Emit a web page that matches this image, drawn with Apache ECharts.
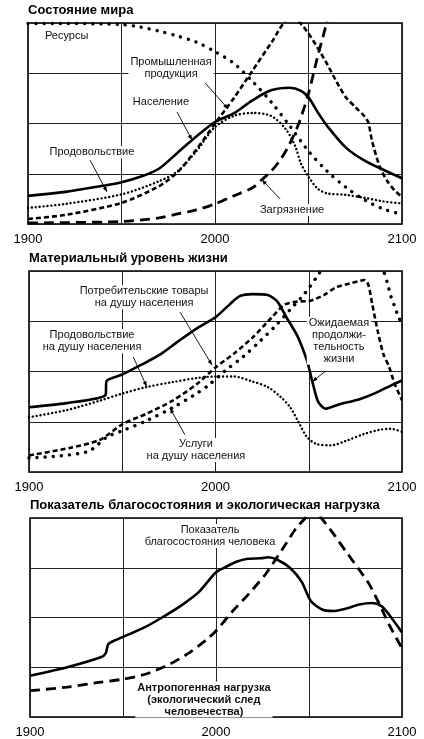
<!DOCTYPE html>
<html><head><meta charset="utf-8">
<script src="https://cdn.jsdelivr.net/npm/echarts/dist/echarts.min.js"></script>
<style>html,body{margin:0;padding:0;background:#fff}#c{width:424px;height:739px}</style>
</head><body><div id="c"></div>
<script>
const FONT = '"Liberation Sans", Arial, Helvetica, sans-serif';

// ---------- Panel 1: Состояние мира ----------
const resYears = [1900,1920,1950,1960,1970,1980,1990,2000,2010,2020,2030,2040,2050,2060,2070,2080,2090,2100];
const resValues = [3.99,3.99,3.97,3.92,3.84,3.74,3.62,3.43,3.2,2.84,2.43,1.95,1.45,1.05,0.73,0.48,0.3,0.19];
const indYears = [1900,1920,1950,1970,1980,1990,2000,2010,2020,2030,2040,2045,2050,2055,2060,2065,2070,2075,2080,2082,2084,2088,2092,2096,2100];
const indValues = [0.1,0.18,0.42,0.75,1.03,1.48,2.0,2.5,3.05,3.6,4.1,4.02,3.79,3.5,3.18,2.83,2.52,2.33,2.14,2.02,1.65,1.15,0.86,0.67,0.54];
const popYears = [1900,1920,1940,1950,1960,1970,1980,1990,2000,2010,2020,2030,2040,2046,2050,2055,2060,2070,2080,2090,2100];
const popValues = [0.56,0.64,0.76,0.83,0.94,1.1,1.42,1.74,2.03,2.2,2.46,2.66,2.71,2.65,2.52,2.22,1.95,1.52,1.26,1.08,0.91];
const foodYears = [1900,1920,1950,1970,1980,1990,2000,2010,2020,2030,2038,2043,2046,2050,2055,2060,2070,2080,2090,2100];
const foodValues = [0.32,0.4,0.59,0.85,1.05,1.45,1.93,2.15,2.21,2.15,1.88,1.54,1.2,0.94,0.7,0.61,0.58,0.52,0.45,0.41];
const polYears = [1900,1950,1970,1980,1990,2000,2010,2020,2025,2030,2035,2040,2045,2050,2055,2060,2063];
const polValues = [0.02,0.05,0.12,0.2,0.28,0.4,0.56,0.72,0.88,1.05,1.28,1.6,2.02,2.6,3.35,4.05,4.6];

// ---------- Panel 2: Материальный уровень жизни ----------
const lifeYears = [1900,1920,1941,1941.6,1950,1960,1970,1980,1990,2000,2008,2013,2020,2028,2033,2038,2044,2049,2052,2055,2059,2065,2078,2085,2094,2100];
const lifeValues = [1.29,1.37,1.53,1.81,1.94,2.13,2.33,2.6,2.86,3.08,3.35,3.5,3.54,3.52,3.4,3.08,2.7,2.22,1.79,1.4,1.26,1.33,1.46,1.56,1.72,1.82];
const goodsYears = [1900,1922,1938,1950,1963,1977,1990,2000,2010,2020,2030,2037,2044,2051,2058,2065,2072,2080,2082,2084,2087,2090,2093,2096,2100];
const goodsValues = [0.33,0.48,0.64,0.95,1.16,1.42,1.75,2.08,2.36,2.68,3.07,3.33,3.39,3.41,3.52,3.68,3.75,3.82,3.72,3.35,2.8,2.35,2.1,1.76,1.43];
const foodPcYears = [1900,1920,1938,1950,1963,1977,1990,2000,2010,2019,2028,2035,2040,2045,2049,2054,2062,2070,2080,2088,2094,2100];
const foodPcValues = [1.09,1.23,1.42,1.56,1.69,1.79,1.87,1.9,1.9,1.81,1.69,1.49,1.29,0.96,0.7,0.56,0.53,0.62,0.76,0.84,0.86,0.8];
const servYears = [1900,1931,1942,1950,1963,1977,1988,1996,2005,2015,2024,2032,2040,2048,2055,2062,2075,2085,2090,2092,2094,2096,2098,2100];
const servValues = [0.28,0.4,0.7,0.82,1.02,1.28,1.52,1.72,2.01,2.3,2.61,2.9,3.23,3.56,3.92,4.3,4.5,4.3,4.0,3.78,3.5,3.3,3.1,2.95];

// ---------- Panel 3: Показатель благосостояния и экологическая нагрузка ----------
const welfYears = [1900,1920,1938,1940.7,1942,1945,1950,1961,1971,1982,1991,2000,2006,2011,2017,2024,2028,2033,2040,2046,2051,2057,2063,2070,2077,2084,2089,2093,2100];
const welfValues = [0.83,1.0,1.2,1.28,1.46,1.53,1.61,1.79,2.0,2.26,2.52,2.91,3.03,3.12,3.18,3.19,3.21,3.16,2.99,2.72,2.33,2.16,2.13,2.18,2.26,2.29,2.23,2.06,1.7];
const footYears = [1900,1920,1938,1950,1962,1975,1986,1995,2000,2009,2018,2027,2036,2043,2048,2052,2056.6,2063,2070,2077,2082.5,2088,2093,2100];
const footValues = [0.53,0.6,0.7,0.76,0.86,1.06,1.3,1.56,1.73,2.13,2.49,2.89,3.39,3.79,4.0,4.2,4.0,3.69,3.32,2.96,2.66,2.26,1.86,1.38];

// tick labels
const tickLabels = [1900, 2000, 2100];
const titles = ['Состояние мира', 'Материальный уровень жизни', 'Показатель благосостояния и экологическая нагрузка'];

// annotations (data coordinates of each panel)
const annoTexts = [
  {g:0, t:'Ресурсы', x:1908, y:3.74, align:'left'},
  {g:0, t:'Промышленная\nпродукция', x:1976.5, y:3.10},
  {g:0, t:'Население', x:1971.1, y:2.43},
  {g:0, t:'Продовольствие', x:1934.2, y:1.43},
  {g:0, t:'Загрязнение', x:2041.2, y:0.28},
  {g:1, t:'Потребительские товары\nна душу населения', x:1961.7, y:3.48},
  {g:1, t:'Продовольствие\nна душу населения', x:1933.8, y:2.60},
  {g:1, t:'Услуги\nна душу населения', x:1989.5, y:0.44},
  {g:1, t:'Ожидаемая\nпродолжи-\nтельность\nжизни', x:2066.2, y:2.61},
  {g:2, t:'Показатель\nблагосостояния человека', x:1996.8, y:3.64},
  {g:2, t:'Антропогенная нагрузка\n(экологический след\nчеловечества)', x:1993.5, y:0.35, bold:true}
];
const annoArrows = [
  {g:0, from:[1994.7,2.81], to:[2007.0,2.29]},
  {g:0, from:[1979.7,2.23], to:[1987.7,1.67]},
  {g:0, from:[1933.2,1.27], to:[1942.2,0.64]},
  {g:0, from:[2034.8,0.50], to:[2025.1,0.88]},
  {g:1, from:[1981.0,3.18], to:[1998.1,2.13]},
  {g:1, from:[1955.9,2.29], to:[1963.1,1.70]},
  {g:1, from:[1983.6,0.74], to:[1975.6,1.27]},
  {g:1, from:[2058.7,2.00], to:[2051.9,1.80]}
];

const pairs = (xs, ys) => xs.map((x, i) => [x, ys[i]]);
const SOLID = {width:2.6, type:'solid'};
const SHORTDASH = {width:2.6, type:[5,3]};
const LONGDASH = {width:2.8, type:[10,6]};
const SMALLDOT = {width:2.4, type:[0.1,3.8], cap:'round'};
const BIGDOT = {width:3.4, type:[0.1,8], cap:'round'};

function line(g, xs, ys, style, smooth) {
  return {
    type:'line', xAxisIndex:g, yAxisIndex:g, data:pairs(xs, ys),
    showSymbol:false, symbol:'none', smooth: smooth == null ? 0.3 : smooth, clip:true, silent:true,
    lineStyle:Object.assign({color:'#000'}, style)
  };
}

const gridPos = [
  {left:28, top:23, width:374, height:201},
  {left:29, top:271, width:373, height:201},
  {left:30, top:518, width:372, height:200}
];

const chart = echarts.init(document.getElementById('c'), null, {renderer:'canvas'});
const option = {
  backgroundColor:'#fff',
  animation:false,
  title: titles.map((t, i) => ({
    text:t, left:gridPos[i].left, top:gridPos[i].top - 19.5, padding:0,
    textStyle:{fontFamily:FONT, fontSize:13, fontWeight:'bold', color:'#000'}
  })),
  grid: gridPos.map(p => Object.assign({show:true, borderColor:'#000', borderWidth:1.6, backgroundColor:'transparent', containLabel:false}, p)),
  xAxis: gridPos.map((p, i) => ({
    type:'value', gridIndex:i, min:1900, max:2100, interval:50,
    axisLine:{show:false}, axisTick:{show:false},
    splitLine:{show:true, lineStyle:{color:'#222', width:1}},
    axisLabel:{show:true, margin:9, color:'#000', fontFamily:FONT, fontSize:13,
      formatter: v => tickLabels.indexOf(v) >= 0 ? String(v) : ''}
  })),
  yAxis: gridPos.map((p, i) => ({
    type:'value', gridIndex:i, min:0, max:4, interval:1,
    axisLine:{show:false}, axisTick:{show:false}, axisLabel:{show:false},
    splitLine:{show:true, lineStyle:{color:'#222', width:1}}
  })),
  series: [
    line(0, resYears, resValues, BIGDOT),
    line(0, polYears, polValues, LONGDASH),
    line(0, foodYears, foodValues, SMALLDOT),
    line(0, indYears, indValues, SHORTDASH, 0.25),
    line(0, popYears, popValues, SOLID),
    line(1, servYears, servValues, BIGDOT),
    line(1, foodPcYears, foodPcValues, SMALLDOT),
    line(1, goodsYears, goodsValues, SHORTDASH, 0.25),
    line(1, lifeYears, lifeValues, SOLID, 0.25),
    line(2, footYears, footValues, LONGDASH, 0.25),
    line(2, welfYears, welfValues, SOLID, 0.25)
  ]
};
chart.setOption(option);

function arrowHead(x1, y1, x2, y2, s) {
  const a = Math.atan2(y2 - y1, x2 - x1);
  return [[x2, y2],
    [x2 - s * Math.cos(a - 0.38), y2 - s * Math.sin(a - 0.38)],
    [x2 - s * Math.cos(a + 0.38), y2 - s * Math.sin(a + 0.38)]];
}

const els = [];
annoArrows.forEach(a => {
  const p1 = chart.convertToPixel({gridIndex:a.g}, a.from);
  const p2 = chart.convertToPixel({gridIndex:a.g}, a.to);
  els.push({type:'line', z:90, silent:true, shape:{x1:p1[0], y1:p1[1], x2:p2[0], y2:p2[1]},
    style:{stroke:'#000', lineWidth:0.9}});
  els.push({type:'polygon', z:90, silent:true, shape:{points:arrowHead(p1[0], p1[1], p2[0], p2[1], 5.5)},
    style:{fill:'#000'}});
});
annoTexts.forEach(l => {
  const p = chart.convertToPixel({gridIndex:l.g}, [l.x, l.y]);
  els.push({type:'text', z:100, silent:true, x:p[0], y:p[1],
    style:{text:l.t, fill:'#111', fontFamily:FONT, fontSize:11, fontWeight: l.bold ? 'bold' : 'normal',
      align:l.align || 'center', verticalAlign:'middle', lineHeight:12,
      backgroundColor:'#fff', padding:[0,2]}});
});
chart.setOption({graphic: els});
</script>
</body></html>
